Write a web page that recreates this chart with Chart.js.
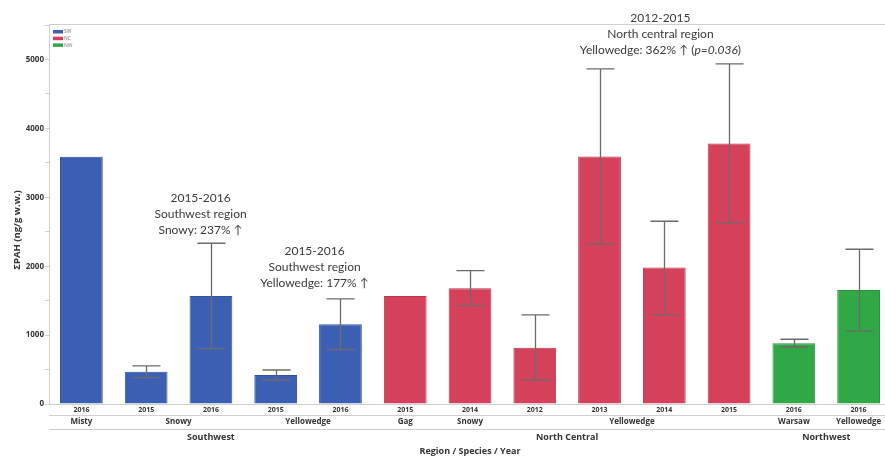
<!DOCTYPE html>
<html>
<head>
<meta charset="utf-8">
<script src="https://cdn.jsdelivr.net/npm/chart.js@4.4.0/dist/chart.umd.min.js"></script>
<style>
html, body { margin: 0; padding: 0; overflow: hidden; background: #fff; }
#wrap { position: relative; width: 892px; height: 457px; }
</style>
</head>
<body>
<div id="wrap"><canvas id="chart"></canvas></div>
<script>
// sample groups, left to right
const years = ["2016", "2015", "2016", "2015", "2016", "2015", "2014", "2012", "2013", "2014", "2015", "2016", "2016"];
const species = ["Misty", "Snowy", "Snowy", "Yellowedge", "Yellowedge", "Gag", "Snowy", "Yellowedge", "Yellowedge", "Yellowedge", "Yellowedge", "Warsaw", "Yellowedge"];
const regions = ["Southwest", "Southwest", "Southwest", "Southwest", "Southwest", "North Central", "North Central", "North Central", "North Central", "North Central", "North Central", "Northwest", "Northwest"];

// mean sum PAH and error bar ends (ng/g w.w.)
const pahMean = [3595, 470, 1571, 422, 1159, 1571, 1683, 819, 3598, 1983, 3787, 882, 1658];
const errLow = [null, 383, 805, 349, 790, null, 1430, 349, 2327, 1295, 2633, 829, 1062];
const errHigh = [null, 553, 2337, 494, 1527, null, 1939, 1295, 4873, 2657, 4945, 941, 2250];

const yLabels = ["0", "1000", "2000", "3000", "4000", "5000"];

const legendCodes = ["SW", "NC", "NW"];
const legendRegions = ["Southwest", "North Central", "Northwest"];
const regionColors = { "Southwest": "#3d5fb3", "North Central": "#d5405a", "Northwest": "#30a846" };
const regionBorders = { "Southwest": "#34529c", "North Central": "#b8364d", "Northwest": "#28903b" };

// trend notes: x in category units, y = value of the bottom line
const notes = [
    { x: 1.84, y: 2530, lines: ["2015-2016", "Southwest region", "Snowy: 237% \u2191"] },
    { x: 3.60, y: 1760, lines: ["2015-2016", "Southwest region", "Yellowedge: 177% \u2191"] },
    { x: 8.94, y: 5150, lines: ["2012-2015", "North central region", ["Yellowedge: 362% \u2191 (", "p=0.036", ")"]] }
];

const FONT = "'Open Sans', 'DejaVu Sans', sans-serif";
const NOTE_FONT = "Lato, 'DejaVu Sans', sans-serif";
const LINE = "#cfcfcf";

function runs(keys) {
    const out = [];
    keys.forEach((k, i) => {
        const last = out[out.length - 1];
        if (last && last.key === k) last.end = i;
        else out.push({ key: k, start: i, end: i });
    });
    return out;
}

const extras = {
    id: "extras",
    afterDatasetsDraw(chart) {
        const ctx = chart.ctx;
        const x = chart.scales.x, y = chart.scales.y;
        ctx.save();
        ctx.strokeStyle = "#6e6a6a";
        ctx.lineWidth = 1.3;
        for (let i = 0; i < pahMean.length; i++) {
            if (errLow[i] == null) continue;
            const cx = Math.round(x.getPixelForValue(i)) + 0.5;
            const yl = y.getPixelForValue(errLow[i]);
            const yh = y.getPixelForValue(errHigh[i]);
            ctx.beginPath();
            ctx.moveTo(cx, yl); ctx.lineTo(cx, yh);
            ctx.moveTo(cx - 14, yl); ctx.lineTo(cx + 14, yl);
            ctx.moveTo(cx - 14, yh); ctx.lineTo(cx + 14, yh);
            ctx.stroke();
        }
        ctx.restore();
    },
    afterDraw(chart) {
        const ctx = chart.ctx;
        const area = chart.chartArea;
        const x = chart.scales.x, y = chart.scales.y;
        ctx.save();

        // frame top and the two rows under the year labels
        ctx.strokeStyle = LINE;
        ctx.lineWidth = 1;
        [area.top - 0.5, area.bottom + 11.5, area.bottom + 25.5].forEach(yy => {
            ctx.beginPath();
            ctx.moveTo(area.left, yy);
            ctx.lineTo(area.right, yy);
            ctx.stroke();
        });

        // y labels every 1000
        ctx.fillStyle = "#333";
        ctx.textAlign = "right";
        ctx.textBaseline = "middle";
        ctx.font = "bold 8px " + FONT;
        yLabels.forEach(t => ctx.fillText(t, area.left - 5, y.getPixelForValue(+t)));

        // species and region rows
        ctx.textAlign = "center";
        const left = i => x.getPixelForValue(i);
        const specKeys = species.map((s, i) => regions[i] + "|" + s);
        ctx.font = "bold 8px " + FONT;
        runs(specKeys).forEach(r => {
            ctx.fillText(r.key.split("|")[1], (left(r.start) + left(r.end)) / 2, area.bottom + 18);
        });
        ctx.font = "bold 9px " + FONT;
        runs(regions).forEach(r => {
            ctx.fillText(r.key, (left(r.start) + left(r.end)) / 2, area.bottom + 33);
        });
        ctx.fillText("Region / Species / Year", (area.left + area.right) / 2, area.bottom + 47);

        // y title
        ctx.save();
        ctx.translate(17, 230);
        ctx.rotate(-Math.PI / 2);
        ctx.font = "bold 9.5px " + FONT;
        ctx.fillText("\u03a3PAH (ng/g w.w.)", 0, 0);
        ctx.restore();

        // legend
        ctx.textAlign = "left";
        ctx.font = "5px " + FONT;
        legendCodes.forEach((c, i) => {
            const ly = area.top + 5 + i * 6.7;
            ctx.fillStyle = regionColors[legendRegions[i]];
            ctx.fillRect(area.left + 4, ly, 10, 3.5);
            ctx.fillStyle = "#777";
            ctx.fillText(c, area.left + 15, ly + 2);
        });

        // trend notes
        ctx.fillStyle = "#3a3a3a";
        ctx.textAlign = "left";
        notes.forEach(n => {
            const cx = x.getPixelForValue(n.x);
            const by = y.getPixelForValue(n.y);
            n.lines.forEach((line, k) => {
                const ly = by - (n.lines.length - 1 - k) * 15.8;
                const parts = Array.isArray(line) ? line : [line];
                const fonts = parts.map((p, j) => (j === 1 ? "italic " : "") + "12px " + NOTE_FONT);
                let w = 0;
                parts.forEach((p, j) => { ctx.font = fonts[j]; w += ctx.measureText(p).width; });
                let px = cx - w / 2;
                parts.forEach((p, j) => {
                    ctx.font = fonts[j];
                    ctx.fillText(p, px, ly);
                    px += ctx.measureText(p).width;
                });
            });
        });
        ctx.restore();
    }
};

new Chart(document.getElementById("chart"), {
    type: "bar",
    data: {
        labels: years,
        datasets: [{
            data: pahMean,
            backgroundColor: regions.map(r => regionColors[r]),
            borderColor: regions.map(r => regionBorders[r]),
            borderWidth: 1,
            barPercentage: 0.66,
            categoryPercentage: 1
        }]
    },
    options: {
        responsive: true,
        maintainAspectRatio: false,
        animation: false,
        layout: { padding: { top: 25, right: 1, left: 0, bottom: 0 } },
        plugins: {
            legend: { display: false },
            tooltip: { enabled: false }
        },
        scales: {
            x: {
                grid: { display: false, drawTicks: false },
                border: { color: LINE },
                ticks: { color: "#333", font: { family: FONT, size: 7, weight: "bold" }, padding: 2, maxRotation: 0, autoSkip: false },
                afterFit: s => { s.height = 53; }
            },
            y: {
                min: 0,
                max: 5510,
                grid: { drawOnChartArea: false, tickLength: 4, color: LINE },
                border: { color: LINE },
                // tick marks every 500; labels drawn by the plugin
                ticks: { stepSize: 500, autoSkip: false, callback: () => "" },
                afterFit: s => { s.width = 49; }
            }
        }
    },
    plugins: [extras]
});
</script>
</body>
</html>
